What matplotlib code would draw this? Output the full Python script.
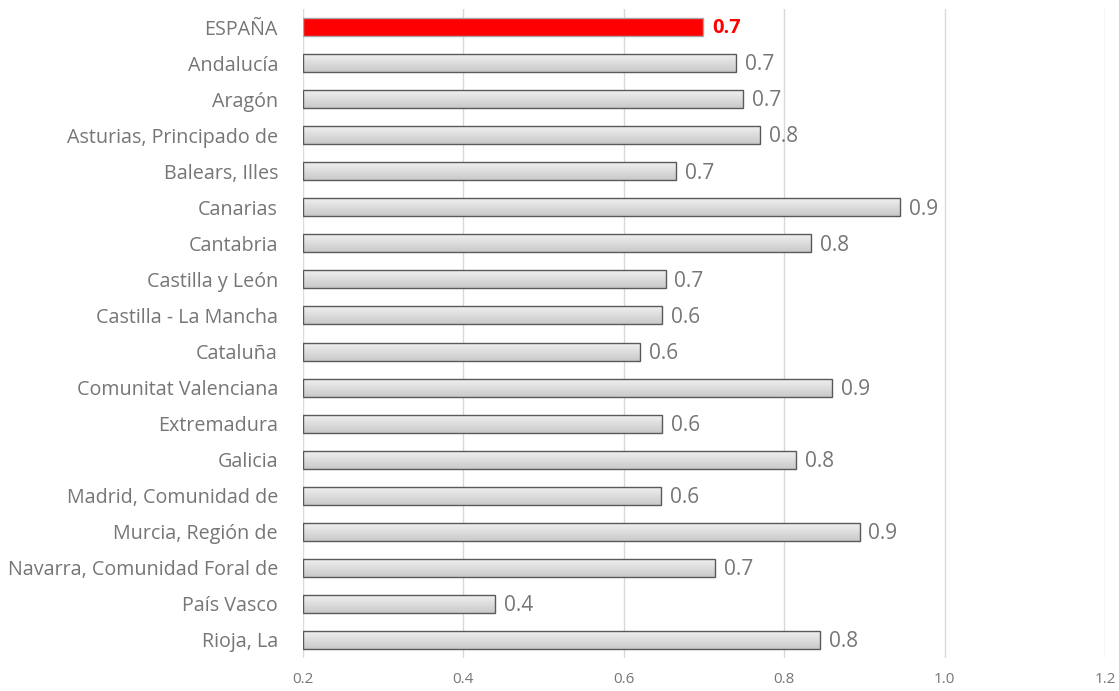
import numpy as np
import matplotlib.pyplot as plt
from matplotlib.colors import LinearSegmentedColormap

regions = ['ESPAÑA', 'Andalucía', 'Aragón', 'Asturias, Principado de', 'Balears, Illes',
           'Canarias', 'Cantabria', 'Castilla y León', 'Castilla - La Mancha', 'Cataluña',
           'Comunitat Valenciana', 'Extremadura', 'Galicia', 'Madrid, Comunidad de',
           'Murcia, Región de', 'Navarra, Comunidad Foral de', 'País Vasco', 'Rioja, La']
values = [0.699, 0.740, 0.749, 0.770, 0.665, 0.945, 0.834, 0.652, 0.648, 0.620,
          0.860, 0.648, 0.815, 0.647, 0.894, 0.714, 0.440, 0.845]
xticks = [0.2, 0.4, 0.6, 0.8, 1.0, 1.2]

plt.rcParams['font.family'] = ['Open Sans', 'DejaVu Sans']
grey = '#767676'

fig = plt.figure(figsize=(11.19, 6.91), dpi=100)
ax = fig.add_axes([303 / 1119, 1 - 658 / 691, 802 / 1119, 649 / 691])

y = np.arange(len(regions))
base = 0.2
bars = ax.barh(y, np.array(values) - base, left=base, height=0.5,
               color='none', edgecolor='#595959', linewidth=1.0, zorder=3)

grad = np.linspace(0, 1, 100).reshape(-1, 1)
cmap = LinearSegmentedColormap.from_list('g', ['#f2f2f2', '#c9c9c9'])
for i, b in enumerate(bars):
    if i == 0:
        b.set_facecolor('#ff0000')
        b.set_edgecolor('#a6a6a6')
        continue
    x0, y0 = b.get_x(), b.get_y()
    w, h = b.get_width(), b.get_height()
    im = ax.imshow(grad, cmap=cmap, extent=[x0, x0 + w, y0 + h, y0],
                   aspect='auto', zorder=2, origin='upper')
    im.set_clip_path(b)

for i, v in enumerate(values):
    if i == 0:
        ax.text(v + 0.011, i + 0.03, f'{v:.1f}', va='center', ha='left', fontsize=14.5,
                color='#ff0000', fontweight='bold')
    else:
        ax.text(v + 0.011, i + 0.05, f'{v:.1f}', va='center', ha='left', fontsize=15, color=grey)

ax.set_xlim(0.2, 1.2)
ax.set_ylim(len(regions) - 0.5, -0.5)
ax.set_xticks(xticks)
ax.set_xticklabels([f'{t:.1f}' for t in xticks], color=grey, fontsize=11)
ax.set_yticks(y)
ax.set_yticklabels(regions, color=grey, fontsize=14.2)
ax.tick_params(length=0, pad=18, axis='y')
ax.tick_params(length=0, pad=10, axis='x')
ax.grid(axis='x', color='#d9d9d9', linewidth=1, zorder=0)
for s in ax.spines.values():
    s.set_visible(False)

fig.savefig('out.png', dpi=100)
